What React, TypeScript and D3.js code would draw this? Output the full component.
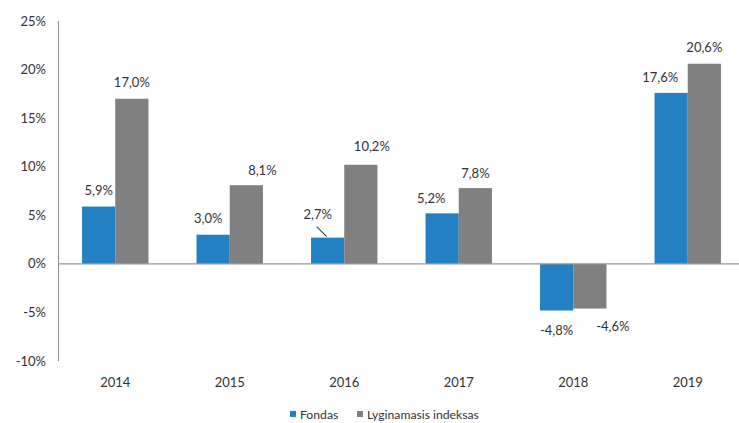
import React from "react";
import * as d3 from "d3";

const years = ["2014", "2015", "2016", "2017", "2018", "2019"];
const fondas = [5.9, 3.0, 2.7, 5.2, -4.8, 17.6];
const indeksas = [17.0, 8.1, 10.2, 7.8, -4.6, 20.6];
const seriesNames = ["Fondas", "Lyginamasis indeksas"];
const yTicks = [-10, -5, 0, 5, 10, 15, 20, 25];

// manual label nudges (dx from bar center, dy of label center from bar end)
const labelNudgeF = [[0, -16], [-5, -16], [-10, -23], [-11, -15], [0, 20], [-11, -15]];
const labelNudgeI = [[0, -16], [16, -15], [11, -18], [0, -15], [23, 18], [0, -16]];

const W = 739;
const H = 423;
const colors = ["#2380C2", "#808080"];
const textColor = "#333333";
const font = "Lato, 'Open Sans', sans-serif";

export default function App() {
  const x0 = d3.scaleBand<string>().domain(years).range([58, 745]).paddingInner(0.42).paddingOuter(0.21);
  const x1 = d3.scaleBand<string>().domain(seriesNames).range([0, x0.bandwidth()]);
  const y = d3.scaleLinear().domain([-10, 25]).range([361, 21]);
  const fmt = (v: number) => v.toFixed(1).replace(".", ",") + "%";
  const series = [fondas, indeksas];
  const nudges = [labelNudgeF, labelNudgeI];

  return (
    <svg width={W} height={H} style={{ position: "absolute", left: 0, top: 0, background: "#fff" }} fontFamily={font}>
      {/* y axis */}
      <line x1={58.5} x2={58.5} y1={y(25)} y2={y(-10)} stroke="#8c8c8c" strokeWidth={1} />
      {yTicks.map((t) => (
        <text key={t} x={46} y={y(t)} dy="0.35em" textAnchor="end" fontSize={13} fill={textColor}>
          {t}%
        </text>
      ))}
      {/* bars */}
      {years.map((yr, i) => (
        <g key={yr}>
          {series.map((s, k) => {
            const v = s[i];
            const bx = (x0(yr) as number) + (x1(seriesNames[k]) as number);
            const bw = x1.bandwidth();
            return (
              <rect key={k} x={bx} width={bw} y={Math.min(y(v), y(0))} height={Math.abs(y(v) - y(0))} fill={colors[k]} />
            );
          })}
        </g>
      ))}
      {/* zero line */}
      <line x1={58} x2={W} y1={y(0)} y2={y(0)} stroke="#999" strokeWidth={1.3} />
      {/* value labels */}
      {years.map((yr, i) => (
        <g key={"l" + yr}>
          {series.map((s, k) => {
            const v = s[i];
            const cx = (x0(yr) as number) + (x1(seriesNames[k]) as number) + x1.bandwidth() / 2;
            const [dx, dy] = nudges[k][i];
            const lx = cx + dx;
            const ly = y(v) + dy;
            const leader = Math.abs(dy) > 20 && v > 0;
            return (
              <g key={k}>
                <text x={lx} y={ly} dy="0.35em" textAnchor="middle" fontSize={13} fill={textColor}>
                  {fmt(v)}
                </text>
                {leader && (
                  <line x1={lx - 1} y1={ly + 12} x2={cx - 1} y2={y(v) - 1} stroke="#404040" strokeWidth={1.2} />
                )}
              </g>
            );
          })}
        </g>
      ))}
      {/* x labels */}
      {years.map((yr) => (
        <text key={"x" + yr} x={(x0(yr) as number) + x0.bandwidth() / 2} y={382} dy="0.35em" textAnchor="middle" fontSize={13} fill={textColor}>
          {yr}
        </text>
      ))}
      {/* legend */}
      <rect x={290} y={411} width={6} height={6} fill={colors[0]} />
      <text x={300} y={414.5} dy="0.35em" fontSize={12.2} fill={textColor}>{seriesNames[0]}</text>
      <rect x={357} y={411} width={6} height={6} fill={colors[1]} />
      <text x={367} y={414.5} dy="0.35em" fontSize={12.2} fill={textColor}>{seriesNames[1]}</text>
    </svg>
  );
}
